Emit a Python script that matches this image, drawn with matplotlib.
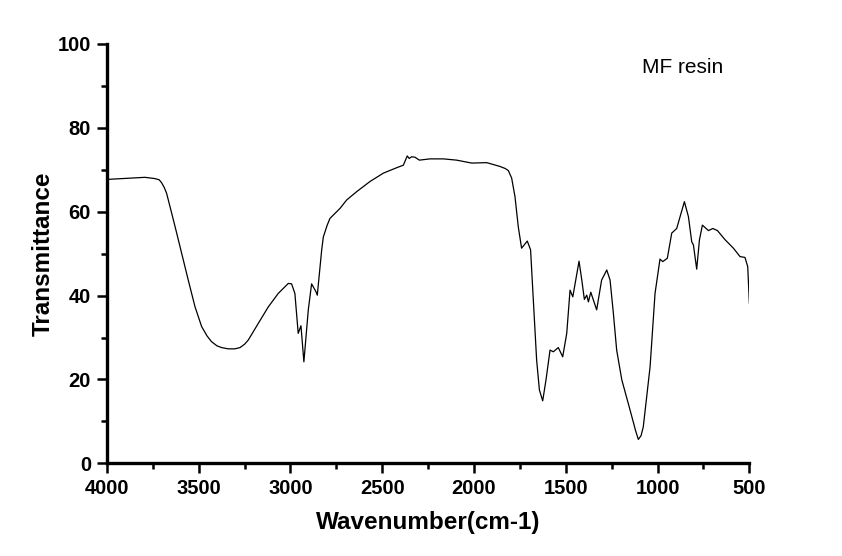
import matplotlib
matplotlib.use('Agg')
import matplotlib.pyplot as plt
from matplotlib.ticker import MultipleLocator
import numpy as np

# FTIR spectrum of MF resin
wavenumber = [4000, 3793, 3738, 3715, 3702, 3688, 3675, 3647, 3620, 3593, 3557, 3520,
              3484, 3455, 3430, 3400, 3375, 3340, 3303, 3275, 3250, 3230, 3175, 3121,
              3067, 3012, 2994, 2976, 2958, 2943, 2927, 2903, 2885, 2861, 2854, 2830,
              2821, 2800, 2785, 2730, 2694, 2639, 2567, 2494, 2421, 2385, 2364, 2353,
              2340, 2322, 2298, 2240, 2167, 2095, 2013, 1931, 1859, 1830, 1813, 1795,
              1777, 1759, 1741, 1710, 1692, 1677, 1659, 1644, 1626, 1608, 1586, 1568,
              1541, 1517, 1495, 1477, 1462, 1428, 1413, 1399, 1386, 1377, 1364, 1332,
              1305, 1277, 1259, 1241, 1223, 1195, 1150, 1120, 1105, 1090, 1078, 1041,
              1014, 987, 972, 947, 923, 896, 854, 832, 814, 805, 787, 772, 756, 723,
              699, 674, 632, 587, 551, 524, 509, 500]
transmittance = [67.7, 68.2, 67.9, 67.6, 66.9, 65.8, 64.4, 59.6, 54.9, 50.1, 43.7, 37.3,
                 32.6, 30.4, 29.0, 28.0, 27.6, 27.3, 27.3, 27.6, 28.4, 29.4, 33.4, 37.3,
                 40.5, 42.9, 42.8, 40.5, 31.0, 32.8, 24.2, 36.6, 42.8, 40.9, 40.1, 50.9,
                 54.0, 56.8, 58.4, 60.8, 62.8, 64.8, 67.2, 69.2, 70.5, 71.1, 73.3, 72.7,
                 73.1, 73.0, 72.3, 72.6, 72.6, 72.3, 71.6, 71.7, 70.8, 70.3, 69.8, 68.0,
                 63.6, 56.4, 51.3, 53.0, 50.9, 38.9, 24.6, 17.5, 14.9, 19.9, 27.0, 26.6,
                 27.6, 25.4, 31.0, 41.3, 39.7, 48.2, 43.7, 39.1, 40.1, 38.5, 40.8, 36.6,
                 43.7, 46.1, 43.7, 35.8, 27.0, 19.9, 12.7, 7.8, 5.7, 6.6, 8.7, 23.0,
                 40.5, 48.7, 48.1, 48.9, 54.9, 56.0, 62.4, 58.8, 52.8, 52.1, 46.3, 53.3,
                 56.8, 55.5, 56.0, 55.5, 53.3, 51.3, 49.3, 49.1, 46.9, 38.2]

xticks = [4000, 3500, 3000, 2500, 2000, 1500, 1000, 500]
yticks = [0, 20, 40, 60, 80, 100]

plt.rcParams['font.family'] = ['Liberation Sans', 'DejaVu Sans']

fig = plt.figure(figsize=(8.42, 5.56), dpi=100)
ax = fig.add_axes([0.127, 0.1667, 0.763, 0.7542])

ax.plot(wavenumber, transmittance, color='black', linewidth=0.9)

ax.set_xlim(4000, 500)
ax.set_ylim(0, 100)
ax.set_xticks(xticks)
ax.set_yticks(yticks)
ax.xaxis.set_minor_locator(MultipleLocator(250))
ax.yaxis.set_minor_locator(MultipleLocator(10))

for side in ['top', 'right']:
    ax.spines[side].set_visible(False)
for side in ['left', 'bottom']:
    ax.spines[side].set_linewidth(2.4)

ax.tick_params(which='major', direction='out', length=7, width=1.8, pad=4.5)
ax.tick_params(which='minor', direction='out', length=4.5, width=1.8)
for lab in ax.get_xticklabels() + ax.get_yticklabels():
    lab.set_fontsize(14.5)
    lab.set_fontweight('bold')

ax.set_xlabel('Wavenumber(cm-1)', fontsize=17.5, fontweight='bold', labelpad=9)
ax.set_ylabel('Transmittance', fontsize=17.5, fontweight='bold', labelpad=2)

ax.text(0.8325, 0.945, 'MF resin', transform=ax.transAxes, fontsize=15,
        ha='left', va='center')

fig.savefig('out.png', dpi=100)
